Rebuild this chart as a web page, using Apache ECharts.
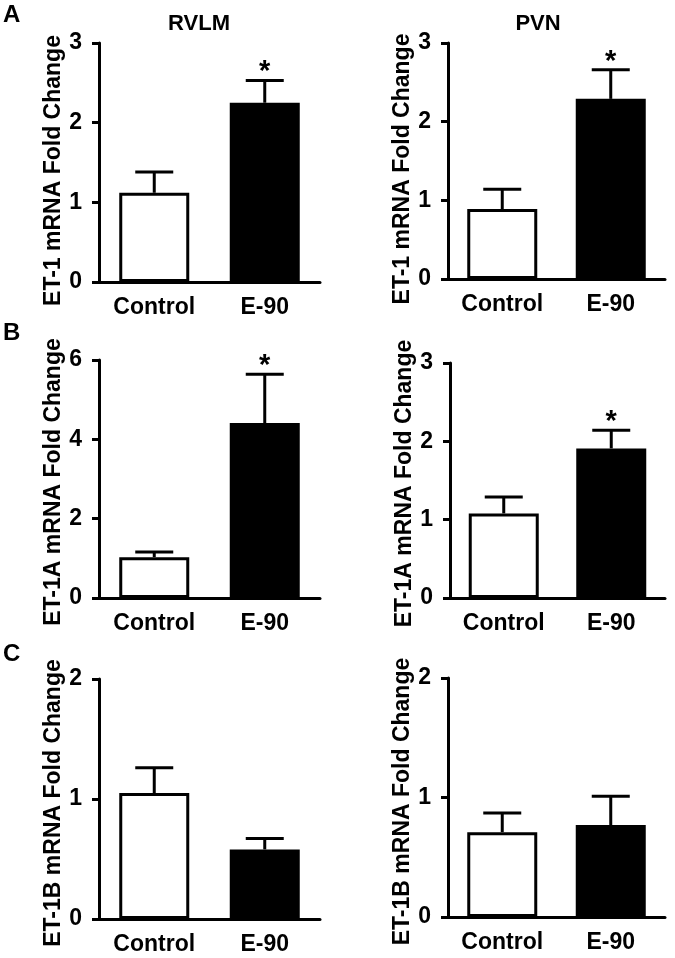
<!DOCTYPE html>
<html>
<head>
<meta charset="utf-8">
<script src="https://cdn.jsdelivr.net/npm/echarts@6/dist/echarts.min.js"></script>
<style>
html,body{margin:0;padding:0;background:#fff;}
#chart{width:675px;height:958px;}
</style>
</head>
<body>
<div id="chart"></div>
<script>
// ---- Data ----
const categories = ['Control', 'E-90'];

const rvlmET1Mean  = [1.12, 2.25];
const rvlmET1SEM   = [0.26, 0.28];
const pvnET1Mean   = [0.89, 2.29];
const pvnET1SEM    = [0.25, 0.37];

const rvlmET1AMean = [1.03, 4.41];
const rvlmET1ASEM  = [0.13, 1.23];
const pvnET1AMean  = [1.08, 1.91];
const pvnET1ASEM   = [0.21, 0.23];

const rvlmET1BMean = [1.05, 0.58];
const rvlmET1BSEM  = [0.21, 0.09];
const pvnET1BMean  = [0.71, 0.77];
const pvnET1BSEM   = [0.16, 0.24];

const sigA = [false, true];
const sigB = [false, true];
const sigC = [false, false];

const yTicksA = [0, 1, 2, 3];
const yTicksBL = [0, 2, 4, 6];
const yTicksBR = [0, 1, 2, 3];
const yTicksC = [0, 1, 2];

const columnTitles = ['RVLM', 'PVN'];
const panelLetters = ['A', 'B', 'C'];
const yNames = ['ET-1 mRNA Fold Change', 'ET-1A mRNA Fold Change', 'ET-1B mRNA Fold Change'];

// ---- Layout ----
const FONT = '"Liberation Sans", Arial, Helvetica, sans-serif';
const panels = [
  {mean: rvlmET1Mean,  sem: rvlmET1SEM,  sig: sigA, ticks: yTicksA,  name: yNames[0], pad: 16, grid: {left: 99,  right: 355, top: 43,  bottom: 676}},
  {mean: pvnET1Mean,   sem: pvnET1SEM,   sig: sigA, ticks: yTicksA,  name: yNames[0], pad: 16, grid: {left: 448, right: 10,  top: 43,  bottom: 679}},
  {mean: rvlmET1AMean, sem: rvlmET1ASEM, sig: sigB, ticks: yTicksBL, name: yNames[1], pad: 6,  grid: {left: 99,  right: 355, top: 360, bottom: 360}},
  {mean: pvnET1AMean,  sem: pvnET1ASEM,  sig: sigB, ticks: yTicksBR, name: yNames[1], pad: 6,  grid: {left: 450, right: 10,  top: 363, bottom: 360}},
  {mean: rvlmET1BMean, sem: rvlmET1BSEM, sig: sigC, ticks: yTicksC,  name: yNames[2], pad: 8,  grid: {left: 99,  right: 355, top: 679, bottom: 39}},
  {mean: pvnET1BMean,  sem: pvnET1BSEM,  sig: sigC, ticks: yTicksC,  name: yNames[2], pad: 8,  grid: {left: 448, right: 10,  top: 678, bottom: 41}}
];

const grids = [], xAxes = [], yAxes = [], series = [];
const lineStyle = {color: '#000', width: 3};

panels.forEach((p, i) => {
  grids.push(Object.assign({containLabel: false}, p.grid));
  xAxes.push({
    type: 'category', gridIndex: i, data: categories,
    axisLine: {lineStyle: lineStyle},
    axisTick: {alignWithLabel: true, length: 7, lineStyle: lineStyle},
    axisLabel: {color: '#000', fontFamily: FONT, fontWeight: 'bold', fontSize: 23, margin: 14}
  });
  const step = p.ticks[1] - p.ticks[0];
  yAxes.push({
    type: 'value', gridIndex: i,
    min: p.ticks[0], max: p.ticks[p.ticks.length - 1], interval: step,
    name: p.name, nameLocation: 'middle', nameRotate: 90, nameGap: 33,
    nameTextStyle: {color: '#000', fontFamily: FONT, fontWeight: 'bold', fontSize: 23, padding: [0, p.pad, 0, 0]},
    axisLine: {show: true, lineStyle: lineStyle},
    axisTick: {show: true, length: 7, lineStyle: lineStyle},
    splitLine: {show: false},
    axisLabel: {color: '#000', fontFamily: FONT, fontWeight: 'bold', fontSize: 23, margin: 17}
  });
  series.push({
    type: 'bar', xAxisIndex: i, yAxisIndex: i, barWidth: 70,
    data: p.mean.map((v, k) => ({
      value: v,
      itemStyle: {color: k === 0 ? '#fff' : '#000', borderColor: '#000', borderWidth: 3}
    })),
    silent: true, animation: false
  });
  series.push({
    type: 'custom', xAxisIndex: i, yAxisIndex: i, animation: false, silent: true, z: 1,
    data: p.mean.map((v, k) => [k, v, v + p.sem[k], p.sig[k] ? 1 : 0]),
    renderItem: function (params, api) {
      const x = api.value(0);
      const base = api.coord([x, api.value(1)]);
      const top = api.coord([x, api.value(2)]);
      const half = 19;
      const children = [
        {type: 'line', shape: {x1: base[0], y1: base[1], x2: top[0], y2: top[1]}, style: {stroke: '#000', lineWidth: 3}},
        {type: 'line', shape: {x1: top[0] - half, y1: top[1], x2: top[0] + half, y2: top[1]}, style: {stroke: '#000', lineWidth: 3}}
      ];
      if (api.value(3)) {
        children.push({type: 'text', style: {text: '*', x: top[0], y: top[1] - 8, textAlign: 'center', textVerticalAlign: 'middle',
          font: 'bold 29px ' + FONT, fill: '#000'}});
      }
      return {type: 'group', children: children};
    }
  });
});

const graphics = [
  {type: 'text', left: 3, top: 3, style: {text: panelLetters[0], font: 'bold 24px ' + FONT, fill: '#000'}},
  {type: 'text', left: 3, top: 321, style: {text: panelLetters[1], font: 'bold 24px ' + FONT, fill: '#000'}},
  {type: 'text', left: 3, top: 642, style: {text: panelLetters[2], font: 'bold 24px ' + FONT, fill: '#000'}},
  {type: 'text', x: 199, y: 13, style: {text: columnTitles[0], font: 'bold 22px ' + FONT, fill: '#000', textAlign: 'center'}},
  {type: 'text', x: 538, y: 13, style: {text: columnTitles[1], font: 'bold 22px ' + FONT, fill: '#000', textAlign: 'center'}}
];

const chart = echarts.init(document.getElementById('chart'), null, {renderer: 'canvas'});
chart.setOption({
  animation: false,
  backgroundColor: '#fff',
  grid: grids, xAxis: xAxes, yAxis: yAxes, series: series,
  graphic: graphics
});
</script>
</body>
</html>
